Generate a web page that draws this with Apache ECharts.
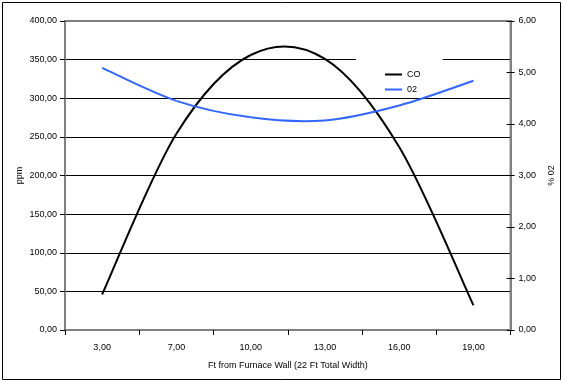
<!DOCTYPE html>
<html>
<head>
<meta charset="utf-8">
<script src="https://cdn.jsdelivr.net/npm/echarts@6/dist/echarts.min.js"></script>
<style>
html,body{margin:0;padding:0;background:#fff;}
#chart{width:564px;height:382px;}
</style>
</head>
<body>
<div id="chart"></div>
<script>
var categories = ['3,00', '7,00', '10,00', '13,00', '16,00', '19,00'];
var coValues = [46, 254, 356, 351, 237, 32];
var o2Values = [5.09, 4.45, 4.13, 4.07, 4.36, 4.84];
var ppmTicks = { min: 0, max: 400, interval: 50 };
var pctTicks = { min: 0, max: 6, interval: 1 };

var FONT = 'Liberation Sans, Arial, sans-serif';
function fmt(v) { return v.toFixed(2).replace('.', ','); }

// Excel-style smoothed line (Catmull-Rom Bezier) drawn through the axes' own scales
function smoothLine(values, color) {
  return function (params, api) {
    var i = params.dataIndex;
    if (i >= values.length - 1) return null;
    var n = values.length;
    var p0 = api.coord([Math.max(i - 1, 0), values[Math.max(i - 1, 0)]]);
    var p1 = api.coord([i, values[i]]);
    var p2 = api.coord([i + 1, values[i + 1]]);
    var p3 = api.coord([Math.min(i + 2, n - 1), values[Math.min(i + 2, n - 1)]]);
    return {
      type: 'bezierCurve',
      shape: {
        x1: p1[0], y1: p1[1], x2: p2[0], y2: p2[1],
        cpx1: p1[0] + (p2[0] - p0[0]) / 6, cpy1: p1[1] + (p2[1] - p0[1]) / 6,
        cpx2: p2[0] - (p3[0] - p1[0]) / 6, cpy2: p2[1] - (p3[1] - p1[1]) / 6
      },
      style: { fill: 'none', stroke: color, lineWidth: 2 }
    };
  };
}
function pairs(values) { return values.map(function (v, i) { return [i, v]; }); }

var chart = echarts.init(document.getElementById('chart'), null, { renderer: 'canvas' });
chart.setOption({
  animation: false,
  backgroundColor: '#fff',
  textStyle: { fontFamily: FONT, color: '#000' },
  graphic: [{
    type: 'rect', silent: true, z: 100,
    shape: { x: 2.5, y: 2.5, width: 558, height: 377 },
    style: { fill: 'none', stroke: '#000', lineWidth: 1 }
  }],
  grid: {
    left: 65, right: 46, top: 21, bottom: 52,
    show: true, borderColor: '#808080', borderWidth: 2, backgroundColor: 'transparent'
  },
  legend: {
    orient: 'vertical', left: 356, top: 56, z: 1,
    padding: [14, 22, 1, 29],
    backgroundColor: '#fff',
    itemGap: 6, itemWidth: 17, itemHeight: 2, icon: 'rect',
    textStyle: { fontFamily: FONT, fontSize: 9, color: '#000' },
    data: ['CO', '02']
  },
  xAxis: {
    type: 'category', data: categories, boundaryGap: true,
    name: 'Ft from Furnace Wall (22 Ft Total Width)', nameLocation: 'middle', nameGap: 31,
    nameTextStyle: { fontFamily: FONT, fontSize: 9, color: '#000' },
    axisLine: { lineStyle: { color: '#808080', width: 2 } },
    axisTick: { show: true, length: 5, lineStyle: { color: '#000' } },
    axisLabel: { fontFamily: FONT, fontSize: 9, color: '#000', margin: 13 },
    splitLine: { show: false }
  },
  yAxis: [{
    type: 'value', position: 'left',
    min: ppmTicks.min, max: ppmTicks.max, interval: ppmTicks.interval,
    name: 'ppm', nameLocation: 'middle', nameGap: 41, nameRotate: 90, nameMoveOverlap: false,
    nameTextStyle: { fontFamily: FONT, fontSize: 9, color: '#000' },
    axisLine: { show: true, lineStyle: { color: '#808080', width: 2 } },
    axisTick: { show: true, length: 5, lineStyle: { color: '#000' } },
    axisLabel: { fontFamily: FONT, fontSize: 9, color: '#000', margin: 8, formatter: fmt },
    splitLine: { show: true, showMinLine: false, showMaxLine: false, lineStyle: { color: '#000', width: 1 } }
  }, {
    type: 'value', position: 'right',
    min: pctTicks.min, max: pctTicks.max, interval: pctTicks.interval,
    name: '% 02', nameLocation: 'middle', nameGap: 27, nameRotate: 90,
    nameTextStyle: { fontFamily: FONT, fontSize: 9, color: '#000' },
    axisLine: { show: true, lineStyle: { color: '#808080', width: 2 } },
    axisTick: { show: true, length: 4, lineStyle: { color: '#000' } },
    axisLabel: { fontFamily: FONT, fontSize: 9, color: '#000', margin: 8, formatter: fmt },
    splitLine: { show: false }
  }, {
    type: 'value', position: 'right',
    min: pctTicks.min, max: pctTicks.max, interval: pctTicks.interval,
    axisLine: { show: false },
    axisTick: { show: true, inside: true, length: 4, lineStyle: { color: '#000' } },
    axisLabel: { show: false },
    splitLine: { show: false }
  }],
  series: [{
    name: 'CO', type: 'custom', yAxisIndex: 0, data: pairs(coValues), z: 2,
    renderItem: smoothLine(coValues, '#000000'),
    itemStyle: { color: '#000000' }
  }, {
    name: '02', type: 'custom', yAxisIndex: 1, data: pairs(o2Values), z: 2,
    renderItem: smoothLine(o2Values, '#3366ff'),
    itemStyle: { color: '#3366ff' }
  }]
});
</script>
</body>
</html>
